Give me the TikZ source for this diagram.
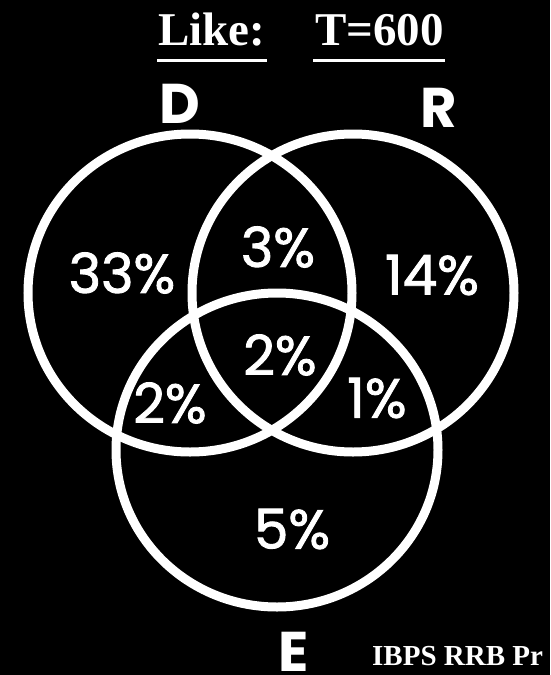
\documentclass[tikz,border=0pt]{standalone}
\usepackage{fontspec}
\setmainfont{Poppins}
\newfontfamily\pctfont{Poppins}[FakeBold=1.6]
\newfontfamily\timesf{Liberation Serif}
\begin{document}
\begin{tikzpicture}[x=1pt,y=-1pt,
  ring/.style={draw=white,line width=9pt},
  pct/.style={text=white,inner sep=0pt,font=\pctfont\fontsize{55}{55}\selectfont},
  setlbl/.style={text=white,inner sep=0pt,font=\fontsize{56}{56}\selectfont\bfseries},
  title/.style={text=white,inner sep=0pt,anchor=base west,font=\timesf\fontsize{47}{47}\selectfont\bfseries},
  uline/.style={draw=white,line width=3pt}]
\fill[black] (0,0) rectangle (550,675);
\useasboundingbox (0,0) rectangle (550,675);
\begin{scope}
\clip (0,0) rectangle (550,675);
% circles
\draw[ring] (190,293) ellipse [x radius=162pt, y radius=159pt];
\draw[ring] (353,293) ellipse [x radius=161pt, y radius=159pt];
\draw[ring] (277,450) ellipse [x radius=161pt, y radius=157pt];
% title
\node[title] (like) at (158,45) {Like:};
\node[title] (tot) at (315,45) {T=600};
\draw[uline] (157,60) -- (267,60);
\draw[uline] (313,60) -- (445,60);
% set labels
\node[setlbl] (D) at (180,104) {D};
\node[setlbl] (R) at (439,108) {R};
\node[setlbl] (E) at (294,652) {E};
% region values
\node[pct] (d) at (122,273) {33\%};
\node[pct] (dr) at (278,247) {3\%};
\node[pct] (r) at (432,275) {14\%};
\node[pct] (dre) at (280,355) {2\%};
\node[pct] (de) at (170,403) {2\%};
\node[pct] (re) at (377,398) {1\%};
\node[pct] (e) at (292,529) {5\%};
% footer
\node[text=white,inner sep=0pt,anchor=base west,font=\timesf\fontsize{29}{29}\selectfont\bfseries] (src) at (372,665) {IBPS RRB Pr};
\end{scope}
\end{tikzpicture}
\end{document}
